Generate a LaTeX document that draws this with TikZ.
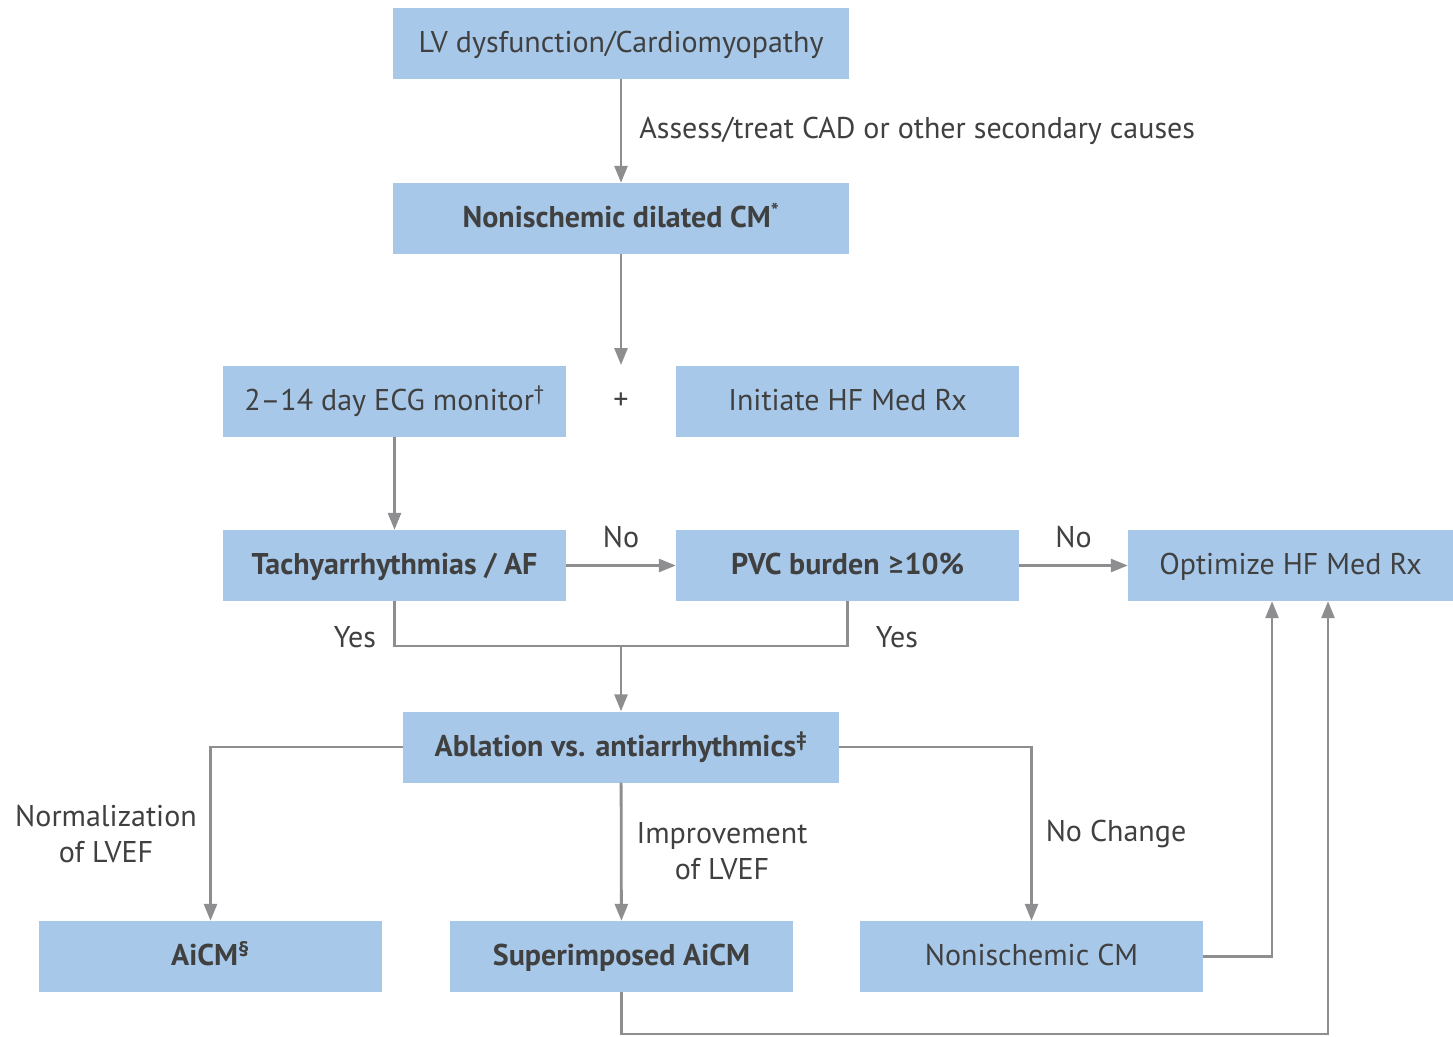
\documentclass[tikz,border=0pt]{standalone}
\usepackage{fontspec}
\setmainfont{PT Sans}
\newfontfamily\symf{Lato}
\usetikzlibrary{arrows.meta}
\definecolor{boxblue}{HTML}{A7C8E9}
\definecolor{linegray}{HTML}{8E8E90}
\definecolor{txt}{HTML}{404040}
\tikzset{
  box/.style={fill=boxblue, draw=none, minimum width=343pt, minimum height=71pt, inner sep=0pt, text height=23pt, text depth=5pt, text=txt, font=\fontsize{30}{34}\selectfont},
  boldbox/.style={box, font=\fontsize{30}{34}\selectfont\bfseries},
  conn/.style={draw=linegray, line width=2.8pt},
  arr/.style={conn, -{Triangle[length=17pt,width=13pt]}},
  lbl/.style={text=txt, font=\fontsize{30}{36}\selectfont, inner sep=0pt},
}
\begin{document}
\begin{tikzpicture}[x=1pt,y=-1pt]
\useasboundingbox (0,0) rectangle (1453,1036);
\node[box, minimum width=456pt] (lv) at (621,43) {LV dysfunction/Cardiomyopathy};
\node[boldbox, minimum width=456pt] (ndcm) at (621,218.5) {Nonischemic dilated CM\textsuperscript{*}};
\node[box] (ecg) at (394.5,401) {2--14 day ECG monitor\textsuperscript{\dag}};
\node[lbl] (plus) at (621,401) {+};
\node[box] (init) at (847.5,401) {Initiate HF Med Rx};
\node[boldbox] (tachy) at (394.5,565.5) {Tachyarrhythmias / AF};
\node[boldbox] (pvc) at (847.5,565.5) {PVC burden {\symf ≥}10\%};
\node[box, minimum width=325pt] (opt) at (1290.5,565.5) {Optimize HF Med Rx};
\node[boldbox, minimum width=436pt] (abl) at (621,747) {Ablation vs. antiarrhythmics\textsuperscript{‡}};
\node[boldbox] (aicm) at (210.5,956.5) {AiCM\textsuperscript{§}};
\node[boldbox] (super) at (621.5,956.5) {Superimposed AiCM};
\node[box] (ncm) at (1031.5,956.5) {Nonischemic CM};

\coordinate (plustop) at (621,365);
\coordinate (join) at (621,646);
\coordinate (bottomline) at (621,1034);

\draw[arr] (lv) -- node[lbl, right=17pt, pos=0.5] {Assess/treat CAD or other secondary causes} (ndcm);
\draw[arr] (ndcm) -- (plustop);
\draw[arr] (ecg) -- (tachy);
\draw[arr] (tachy) -- node[lbl, above=16pt] {No} (pvc);
\draw[arr] (pvc) -- node[lbl, above=16pt] {No} (opt);
\draw[conn] (tachy.south) |- (join) -| (pvc.south);
\node[lbl] at (355,637) {Yes};
\node[lbl] at (897,637) {Yes};
\draw[arr] (join) -- (abl);
\draw[arr] (abl.west) -| (aicm.north);
\node[lbl, align=center] at (106,834) {Normalization\\of LVEF};
\draw[arr] (abl) -- (super);
\node[lbl, align=center] at (722,851) {Improvement\\of LVEF};
\draw[arr] (abl.east) -| (ncm.north);
\node[lbl] at (1116,834) {No Change};
\draw[arr] (ncm.east) -| ([xshift=-18.5pt]opt.south);
\draw[arr] (super.south) |- ([xshift=37.5pt]opt.south |- bottomline) -- ([xshift=37.5pt]opt.south);
\end{tikzpicture}
\end{document}
